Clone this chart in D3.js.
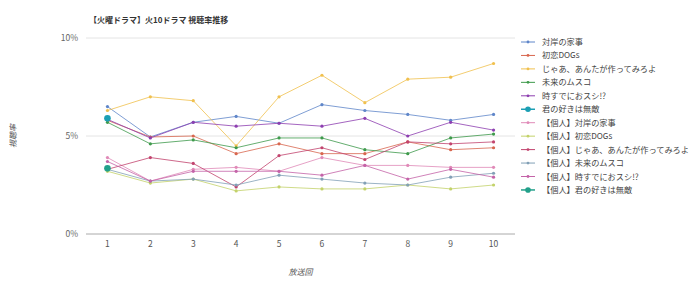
<!doctype html>
<html lang="ja">
<head>
<meta charset="UTF-8" />
<title>火10ドラマ 視聴率推移</title>
<script src="https://cdn.jsdelivr.net/npm/d3@7"></script>
<style>
  body { margin: 0; background: #fff; }
  svg text { font-family: "Noto Sans CJK JP", "Noto Sans", sans-serif; }
</style>
</head>
<body>
<svg id="chart" width="700" height="293"></svg>
<script>
// episodes on x axis
const episodes = [1, 2, 3, 4, 5, 6, 7, 8, 9, 10];
const yTicks = [0, 5, 10];

// series names (legend order)
const names = [
  "対岸の家事", "初恋DOGs", "じゃあ、あんたが作ってみろよ", "未来のムスコ",
  "時すでにおスシ!?", "君の好きは無敵",
  "【個人】対岸の家事", "【個人】初恋DOGs", "【個人】じゃあ、あんたが作ってみろよ",
  "【個人】未来のムスコ", "【個人】時すでにおスシ!?", "【個人】君の好きは無敵"
];
const colors = [
  "#5f86c9", "#d8674f", "#f0c04e", "#3f9a4c", "#8d3fb0", "#1b9fb4",
  "#e08ab8", "#c3d26a", "#c2446e", "#82a0b6", "#c463a8", "#22a08a"
];

// household ratings (%)
const taigan  = [6.5, 4.95, 5.7, 6.0, 5.65, 6.6, 6.3, 6.1, 5.8, 6.1];
const hatsukoi = [5.8, 4.95, 5.0, 4.1, 4.6, 4.1, 4.1, 4.7, 4.3, 4.4];
const jaa     = [6.3, 7.0, 6.8, 4.5, 7.0, 8.1, 6.7, 7.9, 8.0, 8.7];
const mirai   = [5.7, 4.6, 4.8, 4.4, 4.9, 4.9, 4.3, 4.1, 4.9, 5.1];
const sushi   = [5.85, 4.9, 5.7, 5.5, 5.65, 5.5, 5.9, 5.0, 5.7, 5.3];
const kiminosuki = [5.9];

// individual ratings (%)
const kTaigan  = [3.9, 2.7, 3.3, 3.4, 3.2, 3.9, 3.5, 3.5, 3.4, 3.4];
const kHatsukoi = [3.2, 2.6, 2.8, 2.2, 2.4, 2.3, 2.3, 2.5, 2.3, 2.5];
const kJaa     = [3.3, 3.9, 3.6, 2.4, 4.0, 4.4, 3.8, 4.7, 4.6, 4.7];
const kMirai   = [3.3, 2.7, 2.8, 2.5, 3.0, 2.8, 2.6, 2.5, 2.9, 3.1];
const kSushi   = [3.7, 2.7, 3.2, 3.2, 3.2, 3.0, 3.5, 2.8, 3.3, 2.9];
const kKiminosuki = [3.35];

const seriesValues = [taigan, hatsukoi, jaa, mirai, sushi, kiminosuki,
  kTaigan, kHatsukoi, kJaa, kMirai, kSushi, kKiminosuki];

const svg = d3.select("#chart");
const plotL = 86, plotR = 515, plotT = 38, plotB = 234;

const x = d3.scalePoint().domain(episodes).range([plotL, plotR]).padding(0.5);
const y = d3.scaleLinear().domain([0, 10]).range([plotB, plotT]);

svg.append("text")
  .attr("x", 89).attr("y", 23)
  .attr("font-size", 8).attr("font-weight", "bold").attr("fill", "#333")
  .text("【火曜ドラマ】火10ドラマ 視聴率推移");

// grid
svg.append("g").selectAll("line").data(yTicks).join("line")
  .attr("x1", plotL).attr("x2", plotR)
  .attr("y1", d => y(d)).attr("y2", d => y(d))
  .attr("stroke", d => d === 0 ? "#aaa" : "#e4e4e4").attr("stroke-width", 1);

svg.append("g").selectAll("text").data(yTicks).join("text")
  .attr("x", 78).attr("y", d => y(d) + 3)
  .attr("text-anchor", "end").attr("font-size", 8.5).attr("fill", "#666")
  .text(d => d + "%");

svg.append("g").selectAll("text").data(episodes).join("text")
  .attr("x", d => x(d)).attr("y", 247)
  .attr("text-anchor", "middle").attr("font-size", 8.5).attr("fill", "#555")
  .text(d => d);

svg.append("text")
  .attr("x", (plotL + plotR) / 2).attr("y", 275)
  .attr("text-anchor", "middle").attr("font-size", 8).attr("font-style", "italic").attr("fill", "#555")
  .text("放送回");

svg.append("text")
  .attr("transform", `translate(16,${(plotT + plotB) / 2}) rotate(-90)`)
  .attr("text-anchor", "middle").attr("font-size", 8).attr("font-style", "italic").attr("fill", "#555")
  .text("視聴率");

// lines
const line = d3.line().x((d, i) => x(episodes[i])).y(d => y(d));
const plot = svg.append("g");
seriesValues.forEach((vals, s) => {
  const g = plot.append("g");
  if (vals.length > 1) {
    g.append("path").attr("d", line(vals))
      .attr("fill", "none").attr("stroke", colors[s]).attr("stroke-width", 1).attr("opacity", 0.8);
  }
  g.selectAll("circle").data(vals).join("circle")
    .attr("cx", (d, i) => x(episodes[i])).attr("cy", d => y(d))
    .attr("r", vals.length > 1 ? 1.6 : 3.3)
    .attr("fill", colors[s]);
});

// legend
const lg = svg.append("g").selectAll("g").data(names).join("g")
  .attr("transform", (d, i) => `translate(521,${42 + i * 13.45})`);
lg.append("line").attr("x1", 0).attr("x2", 14).attr("y1", 0).attr("y2", 0)
  .attr("stroke", (d, i) => colors[i]).attr("stroke-width", (d, i) => i % 6 === 5 ? 1.5 : 1);
lg.append("circle").attr("cx", 7).attr("cy", 0)
  .attr("r", (d, i) => i % 6 === 5 ? 2.8 : 1.4).attr("fill", (d, i) => colors[i]);
lg.append("text").attr("x", 21).attr("y", 3)
  .attr("font-size", 8.2).attr("fill", "#444").text(d => d);
</script>
</body>
</html>
